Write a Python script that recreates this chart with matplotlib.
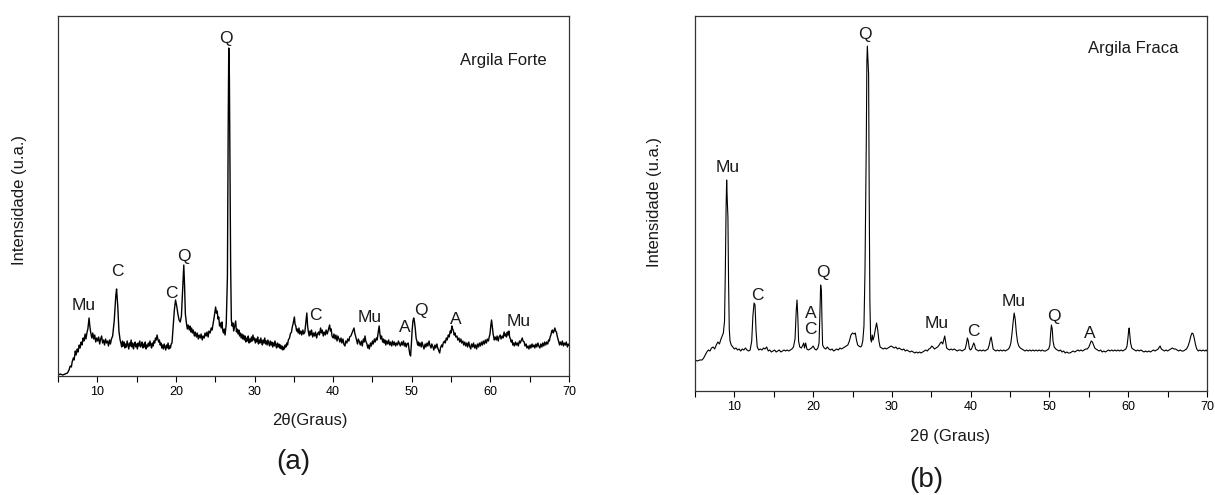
import matplotlib
matplotlib.use("Agg")
import matplotlib.pyplot as plt
from matplotlib.ticker import MultipleLocator

plt.rcParams['font.family'] = ['Liberation Sans', 'DejaVu Sans']

# ---------------- data: panel (a) Argila Forte, (2theta, intensity) ----------------
pattern_a = [
    (5.0, 1), (5.3, 2), (5.6, 1), (5.9, 2), (6.2, 3), (6.4, 6), (6.55, 10), (6.7, 9), (6.8, 14), (6.95, 18),
    (7.05, 16), (7.2, 25), (7.3, 21), (7.45, 27), (7.55, 24), (7.7, 31), (7.8, 28), (7.95, 34), (8.05, 31),
    (8.2, 38), (8.3, 35), (8.45, 42), (8.55, 37), (8.7, 44), (8.8, 47), (8.95, 58), (9.05, 50), (9.15, 44),
    (9.3, 38), (9.42, 43), (9.55, 37), (9.67, 41), (9.8, 34), (9.92, 38), (10.05, 35), (10.17, 39), (10.3, 32),
    (10.42, 37), (10.55, 40), (10.67, 33), (10.8, 36), (10.92, 31), (11.05, 37), (11.17, 33), (11.3, 35),
    (11.42, 30), (11.55, 36), (11.67, 32), (11.8, 37), (11.95, 40),
    (12.15, 55), (12.35, 80), (12.45, 87), (12.6, 70), (12.75, 45), (12.9, 36),
    (13.0, 33), (13.1, 29), (13.2, 35), (13.3, 30), (13.4, 34), (13.5, 28), (13.6, 32), (13.7, 29), (13.8, 35),
    (13.9, 31), (14.0, 27), (14.1, 33), (14.2, 30), (14.3, 36), (14.4, 29), (14.5, 33), (14.6, 27), (14.7, 31),
    (14.8, 34), (14.9, 29), (15.0, 32), (15.1, 27), (15.2, 33), (15.3, 30), (15.4, 35), (15.5, 29), (15.6, 31),
    (15.7, 34), (15.8, 28), (15.9, 32), (16.0, 29), (16.1, 34), (16.2, 27), (16.3, 31), (16.4, 29), (16.5, 33),
    (16.6, 30), (16.7, 35), (16.8, 31), (16.9, 28), (17.0, 33), (17.1, 30), (17.2, 35), (17.3, 33), (17.4, 38),
    (17.5, 36), (17.6, 41), (17.7, 37), (17.8, 34), (17.9, 36), (18.0, 31), (18.1, 33), (18.2, 28), (18.3, 31),
    (18.4, 27), (18.5, 32), (18.6, 29), (18.7, 26), (18.8, 31), (18.9, 28), (19.0, 33), (19.1, 27), (19.2, 30),
    (19.3, 28), (19.4, 32),
    (19.5, 33), (19.65, 50), (19.8, 66), (19.95, 76), (20.1, 70), (20.25, 62), (20.4, 56), (20.55, 54),
    (20.7, 60), (20.85, 85), (21.0, 111), (21.1, 90), (21.2, 62), (21.35, 52), (21.45, 47), (21.55, 51),
    (21.7, 46), (21.8, 50), (21.9, 44), (22.0, 48), (22.1, 43), (22.2, 46), (22.35, 40), (22.45, 44), (22.6, 39),
    (22.7, 43), (22.85, 37), (22.95, 41), (23.1, 38), (23.2, 42), (23.35, 36), (23.45, 40), (23.6, 38),
    (23.7, 43), (23.85, 40), (23.95, 44), (24.1, 39), (24.2, 45), (24.35, 43), (24.5, 48), (24.6, 46),
    (24.75, 53), (24.85, 58), (25.05, 69), (25.15, 63), (25.25, 65), (25.35, 57), (25.45, 59), (25.55, 50),
    (25.65, 53), (25.75, 48), (25.85, 54), (25.95, 46), (26.05, 43), (26.15, 47), (26.25, 41), (26.4, 52),
    (26.55, 99), (26.65, 250), (26.72, 328), (26.8, 300), (26.88, 207), (26.96, 110), (27.05, 56),
    (27.15, 50), (27.25, 53), (27.35, 45), (27.45, 49), (27.6, 55), (27.7, 44), (27.8, 47), (27.9, 42),
    (28.0, 46), (28.1, 40), (28.2, 43), (28.3, 38), (28.4, 42), (28.5, 37), (28.6, 41), (28.7, 36), (28.8, 40),
    (28.9, 34), (29.0, 38), (29.1, 35), (29.2, 40), (29.3, 33), (29.4, 37), (29.5, 34), (29.6, 39), (29.7, 35),
    (29.8, 41), (29.9, 36), (30.0, 38), (30.1, 33), (30.2, 37), (30.3, 34), (30.4, 39), (30.5, 32), (30.6, 36),
    (30.7, 33), (30.8, 38), (30.9, 34), (31.0, 31), (31.1, 36), (31.2, 33), (31.3, 38), (31.4, 32), (31.5, 35),
    (31.6, 31), (31.7, 36), (31.8, 33), (31.9, 30), (32.0, 35), (32.1, 31), (32.2, 34), (32.3, 29), (32.4, 33),
    (32.5, 30), (32.6, 35), (32.7, 31), (32.8, 28), (32.9, 33), (33.0, 29), (33.1, 32), (33.2, 28), (33.3, 31),
    (33.4, 27), (33.5, 30), (33.6, 26), (33.7, 29), (33.8, 27), (33.9, 31), (34.0, 29), (34.1, 33), (34.2, 31),
    (34.3, 36), (34.45, 38), (34.55, 42), (34.7, 44), (34.8, 49), (34.9, 52), (35.0, 56), (35.07, 59),
    (35.15, 52), (35.25, 50), (35.35, 45), (35.45, 47), (35.55, 43), (35.65, 48), (35.75, 42), (35.9, 45),
    (36.0, 41), (36.15, 46), (36.25, 42), (36.4, 44), (36.55, 55), (36.65, 63), (36.75, 50), (36.85, 44),
    (36.95, 40), (37.05, 45), (37.15, 41), (37.25, 46), (37.4, 39), (37.5, 43), (37.65, 40), (37.75, 44),
    (37.9, 38), (38.0, 42), (38.15, 44), (38.25, 41), (38.4, 48), (38.5, 43), (38.6, 46), (38.75, 40),
    (38.85, 44), (39.0, 41), (39.1, 46), (39.25, 42), (39.35, 45), (39.45, 48), (39.55, 51), (39.65, 45),
    (39.75, 47), (39.85, 40), (40.0, 38), (40.1, 42), (40.25, 37), (40.35, 41), (40.5, 35), (40.6, 40),
    (40.75, 37), (40.85, 34), (41.0, 38), (41.1, 33), (41.25, 37), (41.35, 32), (41.5, 30), (41.6, 35),
    (41.75, 33), (41.85, 37), (42.0, 35), (42.1, 39), (42.25, 40), (42.4, 43), (42.5, 45), (42.65, 48),
    (42.75, 43), (42.85, 40), (43.0, 35), (43.1, 32), (43.2, 37), (43.35, 34), (43.45, 31), (43.6, 35),
    (43.7, 30), (43.85, 37), (43.95, 34), (44.05, 40), (44.15, 35), (44.3, 32), (44.4, 28), (44.5, 31),
    (44.6, 27), (44.75, 33), (44.85, 30), (45.0, 35), (45.1, 32), (45.25, 37), (45.35, 34), (45.5, 38),
    (45.6, 36), (45.7, 42), (45.85, 50), (45.95, 42), (46.05, 37), (46.15, 40), (46.3, 34), (46.4, 37),
    (46.5, 33), (46.6, 36), (46.7, 31), (46.8, 35), (46.95, 32), (47.05, 36), (47.2, 31), (47.3, 34),
    (47.45, 30), (47.55, 35), (47.7, 31), (47.8, 34), (47.95, 30), (48.05, 33), (48.2, 31), (48.3, 35),
    (48.45, 32), (48.55, 30), (48.7, 34), (48.8, 31), (48.95, 35), (49.05, 30), (49.2, 33), (49.3, 29),
    (49.4, 32), (49.55, 33), (49.65, 27), (49.75, 22), (49.85, 20), (49.95, 32), (50.05, 46), (50.15, 55),
    (50.25, 58), (50.35, 54), (50.45, 47), (50.55, 38), (50.65, 35), (50.75, 31), (50.85, 34), (50.95, 30),
    (51.05, 33), (51.2, 29), (51.3, 34), (51.45, 30), (51.55, 27), (51.7, 32), (51.8, 29), (51.95, 33),
    (52.05, 30), (52.2, 35), (52.3, 31), (52.45, 28), (52.55, 32), (52.7, 29), (52.8, 26), (52.95, 31),
    (53.05, 28), (53.2, 32), (53.3, 28), (53.45, 25), (53.55, 23), (53.65, 28), (53.8, 31), (53.9, 29),
    (54.0, 33), (54.15, 35), (54.25, 33), (54.4, 38), (54.5, 36), (54.65, 41), (54.75, 39), (54.9, 45),
    (55.0, 43), (55.1, 50), (55.2, 47), (55.3, 45), (55.4, 41), (55.5, 43), (55.6, 39), (55.75, 40),
    (55.85, 36), (56.0, 38), (56.1, 34), (56.25, 37), (56.35, 33), (56.5, 35), (56.6, 31), (56.75, 34),
    (56.85, 30), (57.0, 33), (57.1, 29), (57.25, 34), (57.35, 30), (57.5, 27), (57.6, 32), (57.75, 29),
    (57.85, 33), (58.0, 28), (58.1, 31), (58.25, 27), (58.35, 32), (58.5, 29), (58.6, 33), (58.75, 30),
    (58.85, 34), (59.0, 31), (59.1, 35), (59.25, 32), (59.35, 36), (59.5, 33), (59.6, 37), (59.75, 35),
    (59.85, 39), (59.95, 42), (60.05, 50), (60.15, 56), (60.25, 49), (60.35, 42), (60.5, 36), (60.6, 39),
    (60.75, 36), (60.85, 40), (61.0, 35), (61.1, 39), (61.25, 41), (61.35, 37), (61.5, 40), (61.6, 38),
    (61.75, 44), (61.85, 40), (61.95, 42), (62.05, 39), (62.15, 44), (62.25, 41), (62.35, 45), (62.45, 39),
    (62.55, 37), (62.65, 34), (62.75, 36), (62.85, 31), (62.95, 33), (63.05, 30), (63.2, 34), (63.3, 31),
    (63.45, 33), (63.55, 30), (63.7, 35), (63.8, 33), (63.95, 36), (64.05, 38), (64.15, 35), (64.3, 34),
    (64.4, 30), (64.55, 32), (64.65, 28), (64.8, 30), (64.9, 27), (65.05, 31), (65.15, 28), (65.3, 32),
    (65.4, 29), (65.55, 31), (65.65, 28), (65.8, 32), (65.9, 29), (66.05, 33), (66.15, 30), (66.3, 28),
    (66.4, 32), (66.55, 29), (66.65, 33), (66.8, 30), (66.9, 34), (67.05, 31), (67.15, 34), (67.3, 32),
    (67.4, 36), (67.5, 35), (67.6, 39), (67.7, 41), (67.8, 45), (67.9, 46), (68.0, 43), (68.1, 45),
    (68.2, 48), (68.3, 45), (68.4, 44), (68.5, 40), (68.6, 37), (68.7, 34), (68.8, 31), (68.9, 34),
    (69.05, 31), (69.15, 35), (69.3, 30), (69.4, 33), (69.55, 31), (69.65, 34), (69.8, 29), (69.9, 32),
    (70.0, 31),
]

# ---------------- data: panel (b) Argila Fraca ----------------
theta_b = [5.0, 5.3, 5.6, 5.9, 6.1, 6.3, 6.5, 6.7, 6.9, 7.1, 7.3, 7.5, 7.7, 7.9, 8.1, 8.3, 8.45, 8.6, 8.75, 8.85,
           8.95, 9.02, 9.1, 9.18, 9.26, 9.35, 9.45, 9.6, 9.8, 10.0, 10.2, 10.4, 10.6, 10.8, 11.0, 11.2, 11.4, 11.6,
           11.8, 12.0, 12.2, 12.35, 12.5, 12.62, 12.75, 12.9, 13.1, 13.3, 13.5, 13.7, 13.9, 14.1, 14.3, 14.5, 14.7,
           14.9, 15.1, 15.3, 15.5, 15.7, 15.9, 16.1, 16.3, 16.5, 16.7, 16.9, 17.1, 17.3, 17.5, 17.7, 17.85, 17.95,
           18.05, 18.15, 18.3, 18.5, 18.7, 18.8, 18.9, 19.05, 19.2, 19.4, 19.6, 19.8, 20.0, 20.2, 20.4, 20.6, 20.75,
           20.85, 20.95, 21.05, 21.12, 21.2, 21.4, 21.6, 21.8, 22.0, 22.2, 22.4, 22.6, 22.8, 23.0, 23.2, 23.4, 23.6,
           23.8, 24.0, 24.2, 24.4, 24.6, 24.8, 25.0, 25.2, 25.35, 25.5, 25.65, 25.8, 26.0, 26.15, 26.3, 26.45, 26.58,
           26.68, 26.75, 26.82, 26.88, 26.96, 27.04, 27.12, 27.2, 27.3, 27.4, 27.5, 27.6, 27.75, 27.9, 28.05, 28.2,
           28.35, 28.5, 28.7, 28.9, 29.1, 29.3, 29.5, 29.7, 29.9, 30.1, 30.3, 30.5, 30.7, 30.9, 31.1, 31.3, 31.5,
           31.7, 31.9, 32.1, 32.3, 32.5, 32.7, 32.9, 33.1, 33.3, 33.5, 33.7, 33.9, 34.1, 34.3, 34.5, 34.7, 34.9,
           35.05, 35.2, 35.4, 35.6, 35.8, 36.0, 36.15, 36.3, 36.45, 36.6, 36.7, 36.8, 36.95, 37.1, 37.3, 37.5, 37.7,
           37.9, 38.1, 38.3, 38.5, 38.7, 38.9, 39.1, 39.3, 39.45, 39.58, 39.7, 39.82, 39.95, 40.1, 40.25, 40.38,
           40.5, 40.62, 40.8, 41.0, 41.2, 41.4, 41.6, 41.8, 42.0, 42.2, 42.35, 42.5, 42.6, 42.72, 42.85, 43.0, 43.2,
           43.4, 43.6, 43.8, 44.0, 44.2, 44.4, 44.6, 44.8, 44.95, 45.1, 45.25, 45.4, 45.52, 45.65, 45.8, 45.95,
           46.1, 46.3, 46.5, 46.7, 46.9, 47.1, 47.3, 47.5, 47.7, 47.9, 48.1, 48.3, 48.5, 48.7, 48.9, 49.1, 49.3,
           49.5, 49.7, 49.9, 50.05, 50.15, 50.25, 50.35, 50.45, 50.6, 50.8, 51.0, 51.2, 51.4, 51.6, 51.8, 52.0,
           52.2, 52.4, 52.6, 52.8, 53.0, 53.2, 53.4, 53.6, 53.8, 54.0, 54.2, 54.4, 54.6, 54.8, 55.0, 55.15, 55.3,
           55.45, 55.6, 55.75, 55.9, 56.1, 56.3, 56.5, 56.7, 56.9, 57.1, 57.3, 57.5, 57.7, 57.9, 58.1, 58.3, 58.5,
           58.7, 58.9, 59.1, 59.3, 59.5, 59.7, 59.85, 59.95, 60.05, 60.12, 60.2, 60.3, 60.45, 60.6, 60.8, 61.0,
           61.2, 61.4, 61.6, 61.8, 62.0, 62.2, 62.4, 62.6, 62.8, 63.0, 63.2, 63.4, 63.6, 63.8, 63.95, 64.05, 64.2,
           64.4, 64.6, 64.8, 65.0, 65.2, 65.4, 65.6, 65.8, 66.0, 66.2, 66.4, 66.6, 66.8, 67.0, 67.2, 67.4, 67.6,
           67.8, 67.95, 68.1, 68.25, 68.4, 68.55, 68.7, 68.9, 69.1, 69.3, 69.5, 69.7, 69.9, 70.0]
inten_b = [31, 30, 31, 31, 33, 36, 39, 41, 40, 43, 44, 42, 46, 49, 47, 52, 55, 58, 70, 120,
           185, 211, 190, 174, 110, 62, 50, 46, 44, 42, 43, 41, 42, 40, 42, 41, 43, 41,
           40, 41, 50, 75, 88, 86, 60, 44, 41, 42, 41, 43, 42, 44, 40, 41, 39,
           40, 41, 39, 40, 41, 39, 40, 41, 40, 41, 40, 41, 42, 44, 52, 80, 91,
           75, 50, 44, 43, 46, 48, 43, 48, 42, 41, 42, 43, 45, 42, 41, 43, 48,
           75, 106, 100, 70, 46, 43, 42, 44, 42, 41, 42, 40, 41, 42, 41, 43, 42,
           43, 44, 45, 46, 50, 56, 58, 57, 58, 51, 46, 45, 44, 45, 50, 65, 120,
           200, 252, 330, 345, 332, 317, 190, 90, 52, 49, 56, 51, 55, 62, 68, 61,
           50, 44, 43, 42, 43, 42, 43, 44, 45, 44, 43, 44, 42, 43, 42, 41, 42,
           40, 41, 40, 39, 40, 39, 38, 39, 38, 39, 38, 39, 40, 41, 40, 42, 43,
           45, 44, 42, 43, 44, 46, 48, 49, 47, 52, 55, 50, 43, 42, 41, 42, 41,
           42, 41, 40, 41, 41, 40, 41, 42, 47, 53, 50, 43, 41, 42, 45, 48,
           46, 42, 41, 40, 41, 40, 41, 40, 41, 42, 46, 52, 54, 48, 42, 41, 40,
           41, 40, 41, 40, 41, 40, 41, 42, 44, 48, 58, 70, 78, 72, 58, 49,
           45, 43, 42, 41, 40, 41, 40, 41, 40, 41, 40, 41, 40, 41, 40, 41, 40,
           40, 41, 42, 46, 58, 66, 62, 50, 44, 42, 41, 40, 41, 39, 40, 38,
           39, 38, 38, 39, 40, 39, 40, 41, 40, 41, 40, 41, 42, 42, 44, 47, 50,
           49, 46, 43, 42, 41, 40, 41, 39, 40, 39, 40, 41, 40, 41, 40, 41, 40,
           41, 40, 41, 40, 41, 42, 45, 52, 60, 63, 56, 48, 43, 42, 41, 40,
           41, 40, 41, 40, 39, 40, 39, 40, 39, 40, 41, 40, 41, 42, 44, 45, 42,
           41, 40, 41, 40, 41, 42, 43, 42, 42, 41, 40, 41, 40, 40, 41, 42, 45,
           50, 55, 58, 57, 52, 46, 42, 40, 41, 40, 41, 40, 41, 40]

# peak labels: (label, 2theta, intensity)
labels_a = [("Mu", 8.3, 70), ("C", 12.6, 104), ("C", 19.4, 83), ("Q", 21.0, 119), ("Q", 26.4, 338),
            ("C", 37.7, 60), ("Mu", 44.7, 58), ("A", 49.15, 48), ("Q", 51.2, 65), ("A", 55.6, 56),
            ("Mu", 63.6, 55)]
labels_b = [("Mu", 9.1, 223), ("C", 12.9, 96), ("A", 19.7, 78), ("C", 19.7, 62), ("Q", 21.25, 119),
            ("Q", 26.6, 356), ("Mu", 35.7, 67), ("C", 40.3, 60), ("Mu", 45.4, 90), ("Q", 50.6, 75),
            ("A", 55.1, 58)]
sample_a = "Argila Forte"
sample_b = "Argila Fraca"
xticks = [10, 20, 30, 40, 50, 60, 70]

theta_a = [p[0] for p in pattern_a]
inten_a = [p[1] for p in pattern_a]

W, H = 1215, 495
fig = plt.figure(figsize=(W / 100, H / 100), dpi=100)


def box(l, t, r, b):
    return [l / W, 1 - b / H, (r - l) / W, (b - t) / H]


def style(ax, ymax):
    ax.set_xlim(5, 70)
    ax.set_ylim(0, ymax)
    ax.set_xticks(xticks)
    ax.xaxis.set_minor_locator(MultipleLocator(5))
    ax.tick_params(axis='x', which='both', direction='out', length=4, width=0.8,
                   labelsize=9, pad=3, top=False)
    ax.set_yticks([])
    for s in ax.spines.values():
        s.set_linewidth(0.9)
        s.set_color('#333333')


ax1 = fig.add_axes(box(58, 16, 569, 376))
ax1.plot(theta_a, inten_a, color='black', lw=1.0)
style(ax1, 360)
for t, x, y in labels_a:
    ax1.text(x, y, t, ha='center', va='center', fontsize=12.5, color='#1a1a1a')
ax1.text(61.7, 316, sample_a, ha='center', va='center', fontsize=12, color='#1a1a1a')

ax2 = fig.add_axes(box(695, 16, 1207, 391))
ax2.plot(theta_b, inten_b, color='black', lw=0.8)
style(ax2, 375)
for t, x, y in labels_b:
    ax2.text(x, y, t, ha='center', va='center', fontsize=12.5, color='#1a1a1a')
ax2.text(60.6, 342, sample_b, ha='center', va='center', fontsize=12, color='#1a1a1a')


def ftext(x, y, s, **kw):
    fig.text(x / W, 1 - y / H, s, ha='center', va='center', color='#1a1a1a', **kw)


ftext(310, 420, "2θ(Graus)", fontsize=12)
ftext(950, 437, "2θ (Graus)", fontsize=12)
ftext(20, 200, "Intensidade (u.a.)", fontsize=12, rotation=90)
ftext(655, 202, "Intensidade (u.a.)", fontsize=12, rotation=90)
ftext(293, 462, "(a)", fontsize=20)
ftext(926, 480, "(b)", fontsize=20)

fig.savefig("out.png", dpi=100)
